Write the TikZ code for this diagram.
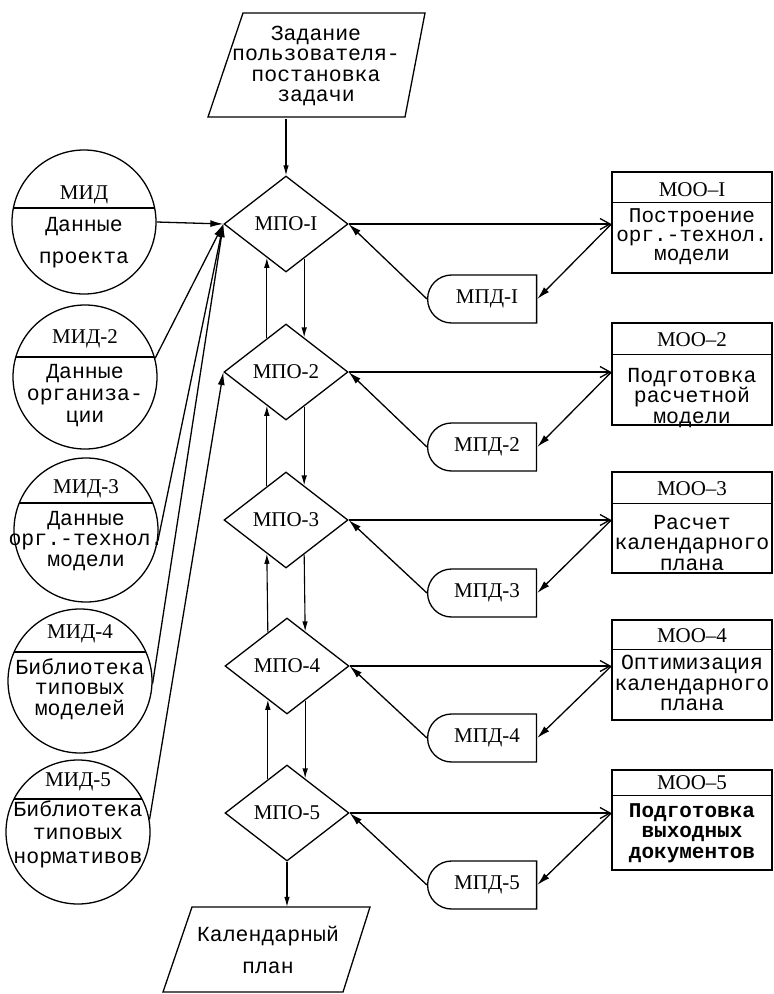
\documentclass[tikz,border=0pt]{standalone}
\usepackage{fontspec}
\setmainfont{Liberation Serif}
\newfontfamily\tw{Liberation Mono}
\usetikzlibrary{shapes.geometric,shapes.misc,arrows.meta,calc}
\begin{document}
\begin{tikzpicture}[x=1pt,y=-1pt,
  line width=1.3pt,
  tt/.style={font=\tw\fontsize{21.5}{20.5}\selectfont, align=center, inner sep=0pt},
  lab/.style={font=\fontsize{21}{22}\selectfont, inner sep=0pt},
  dia/.style={diamond, draw, minimum width=124pt, minimum height=96pt, inner sep=0pt, font=\fontsize{21}{22}\selectfont},
  midc/.style={circle, draw, minimum size=144pt, inner sep=0pt},
  moo/.style={rectangle, draw, minimum width=160pt, inner sep=0pt},
  mpd/.style={rounded rectangle, rounded rectangle right arc=none, draw, minimum width=109pt, minimum height=48pt, inner sep=0pt, font=\fontsize{21}{22}\selectfont},
  oarr/.style={-{Straight Barb[length=10pt,width=11pt]}},
  farr/.style={-{Latex[length=13pt,width=7pt]}},
  varr/.style={line width=1.1pt,-{Latex[length=10pt,width=5.5pt]}}
]
\useasboundingbox[fill=white] (0,0) rectangle (774,994);

% top input
\node[tt, minimum width=180pt, minimum height=104pt] (ptop) at (316,66)
  {Задание\\пользователя-\\постановка\\задачи};
\draw ($(ptop)+(-73,-53)$) -- ($(ptop)+(109,-53)$) -- ($(ptop)+(89,51)$) -- ($(ptop)+(-108,51)$) -- cycle;

% diamonds
\node[dia] (d1) at (286,224) {МПО-I};
\node[dia] (d2) at (286,372) {МПО-2};
\node[dia] (d3) at (286,520) {МПО-3};
\node[dia] (d4) at (287,666) {МПО-4};
\node[dia] (d5) at (287,813) {МПО-5};

% bottom output
\node[tt, font=\tw\fontsize{21.5}{32}\selectfont, minimum width=170pt, minimum height=85pt] (pbot) at (268,950)
  {Календарный\\план};
\draw ($(pbot)+(-76,-43)$) -- ($(pbot)+(102,-43)$) -- ($(pbot)+(75,42)$) -- ($(pbot)+(-105,42)$) -- cycle;

% left circles
\node[midc] (m1) at (84,222) {};
\node[midc] (m2) at (85,377) {};
\node[midc] (m3) at (86,530) {};
\node[midc] (m4) at (80,681) {};
\node[midc] (m5) at (78,832) {};
\draw ($(m1)+(-70.6,-14)$) -- ($(m1)+(70.6,-14)$);
\draw ($(m2)+(-69.2,-20)$) -- ($(m2)+(69.2,-20)$);
\draw ($(m3)+(-66.7,-27)$) -- ($(m3)+(66.7,-27)$);
\draw ($(m4)+(-65.9,-29)$) -- ($(m4)+(65.9,-29)$);
\draw ($(m5)+(-64.0,-33)$) -- ($(m5)+(64.0,-33)$);
\node[lab] (m1t) at (84,195) {МИД};
\node[lab] (m2t) at (85,339) {МИД-2};
\node[lab] (m3t) at (86,489) {МИД-3};
\node[lab] (m4t) at (80,634) {МИД-4};
\node[lab] (m5t) at (78,782) {МИД-5};
\node[tt, font=\tw\fontsize{21.5}{32}\selectfont] (m1b) at (84,243) {Данные\\проекта};
\node[tt, font=\tw\fontsize{21.5}{22}\selectfont] (m2b) at (85,396) {Данные\\организа-\\ции};
\node[tt] (m3b) at (86,541) {Данные\\орг.-технол.\\модели};
\node[tt] (m4b) at (80,689) {Библиотека\\типовых\\моделей};
\node[tt, font=\tw\fontsize{21.5}{23.5}\selectfont] (m5b) at (78,834) {Библиотека\\типовых\\нормативов};

% right boxes
\node[moo, minimum height=101pt] (o1) at (692,222.5) {};
\node[moo, minimum height=102pt] (o2) at (692,374) {};
\node[moo, minimum height=101pt] (o3) at (692,522.5) {};
\node[moo, minimum height=100pt] (o4) at (692,670) {};
\node[moo, minimum height=100pt] (o5) at (692,820) {};
\draw ($(o1.north west)+(0,31)$) -- ($(o1.north east)+(0,31)$);
\draw ($(o2.north west)+(0,32)$) -- ($(o2.north east)+(0,32)$);
\draw ($(o3.north west)+(0,32)$) -- ($(o3.north east)+(0,32)$);
\draw ($(o4.north west)+(0,30)$) -- ($(o4.north east)+(0,30)$);
\draw ($(o5.north west)+(0,26)$) -- ($(o5.north east)+(0,26)$);
\node[lab] (o1t) at (692,190) {МОО–I};
\node[lab] (o2t) at (692,340) {МОО–2};
\node[lab] (o3t) at (692,489) {МОО–3};
\node[lab] (o4t) at (692,636) {МОО–4};
\node[lab] (o5t) at (692,783) {МОО–5};
\node[tt, font=\tw\fontsize{21}{19}\selectfont] (o1b) at (692,237) {Построение\\орг.-технол.\\модели};
\node[tt] (o2b) at (692,398) {Подготовка\\расчетной\\модели};
\node[tt] (o3b) at (692,543) {Расчет\\календарного\\плана};
\node[tt] (o4b) at (692,683) {Оптимизация\\календарного\\плана};
\node[tt, font=\tw\bfseries\fontsize{21}{20.5}\selectfont] (o5b) at (692,833) {Подготовка\\выходных\\документов};

% MPD nodes
\node[mpd] (p1) at (483,299) {\hspace*{8pt}МПД-I};
\node[mpd] (p2) at (483,447) {\hspace*{8pt}МПД-2};
\node[mpd] (p3) at (483,593) {\hspace*{8pt}МПД-3};
\node[mpd] (p4) at (483,738) {\hspace*{8pt}МПД-4};
\node[mpd] (p5) at (483,885) {\hspace*{8pt}МПД-5};

% top and bottom arrows
\draw[varr] (ptop.south -| d1.north) -- (d1.north);
\draw[varr] (d5.south) -- (d5.south |- pbot.north);

% circles to diamonds
\draw[farr] (m1.east) -- (d1.west);
\draw[farr] (m2.15) -- (d1.west);
\draw[farr] (m3.-9) -- (d1.west);
\draw[farr] (m4.-2) -- (d1.west);
\draw[farr] (m5.10) -- (d2.west);

% vertical links between diamonds
\foreach \a/\b in {d1/d2,d2/d3,d3/d4,d4/d5}{
  \draw[varr] ($(\b.west)!0.694!(\b.north)$) -- ($(\a.west)!0.694!(\a.south)$);
  \draw[varr] ($(\a.east)!0.71!(\a.south)$) -- ($(\b.east)!0.71!(\b.north)$);
}

% right side links
\foreach \d/\o/\p in {d1/o1/p1,d2/o2/p2,d3/o3/p3,d4/o4/p4,d5/o5/p5}{
  \draw[oarr] (\d.east) -- (\d.east -| \o.west);
  \draw[farr] (\d.east -| \o.west) -- (\p.east);
  \draw[farr] (\p.west) -- (\d.east);
}
\end{tikzpicture}
\end{document}
